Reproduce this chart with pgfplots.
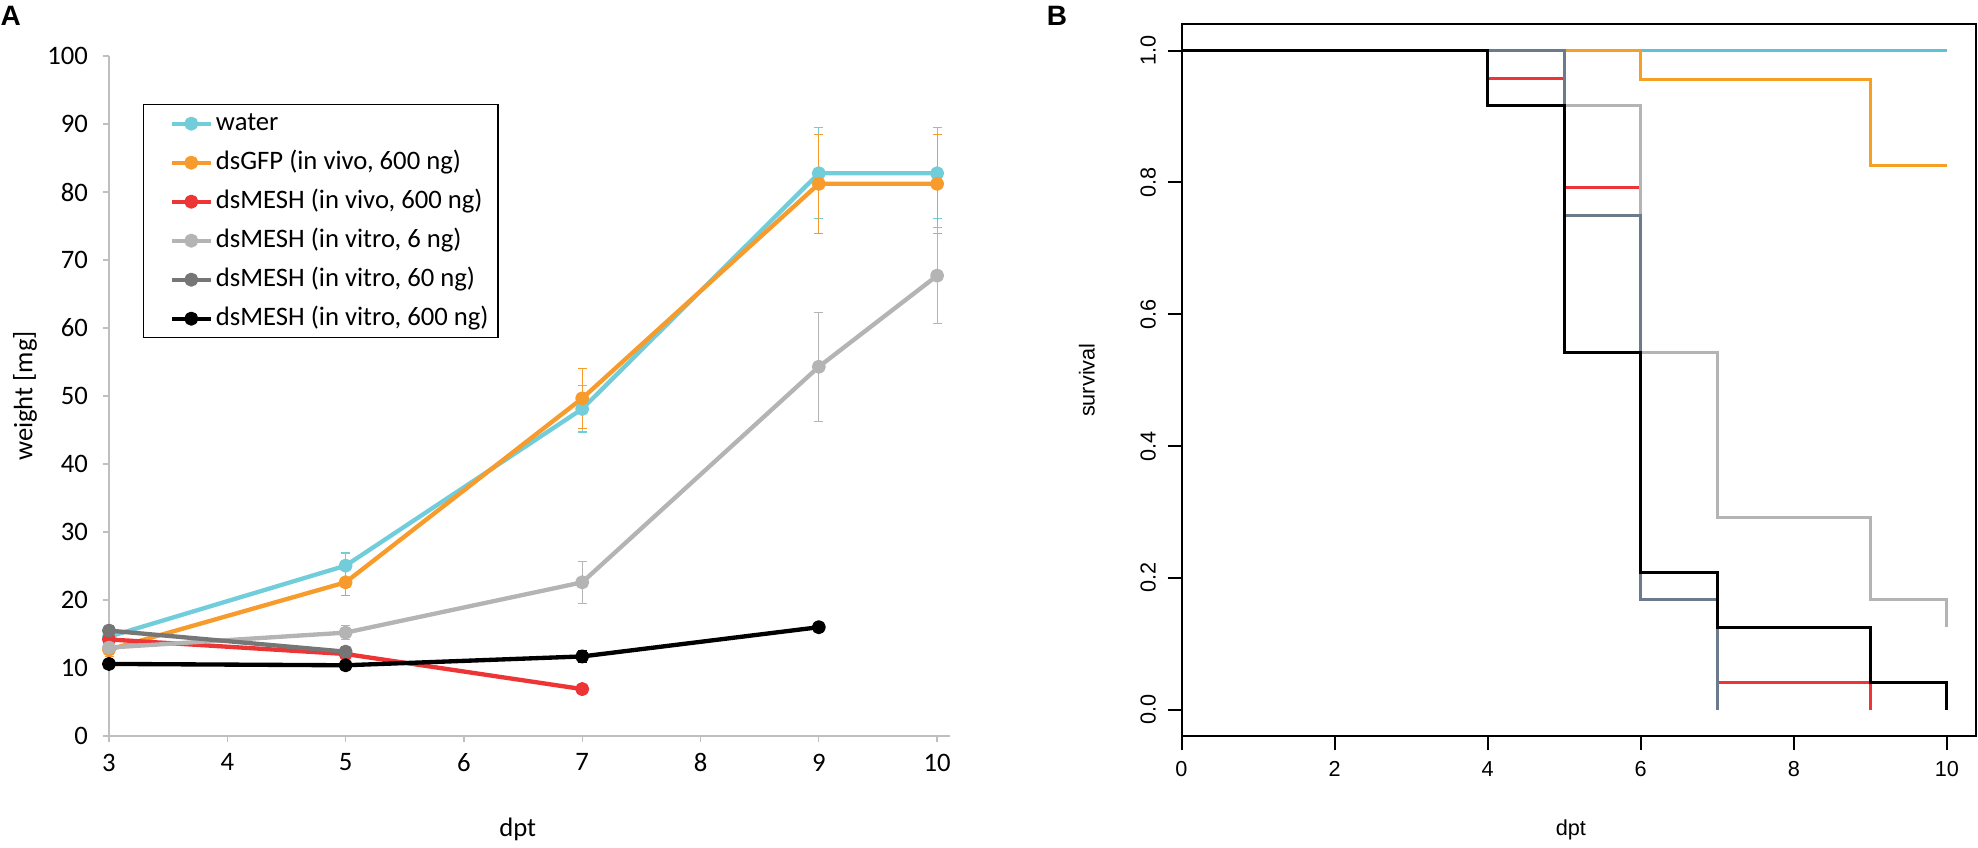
\documentclass[border=0pt]{standalone}
\usepackage{fontspec}
\setmainfont{Carlito}
\newfontfamily\arialf{Liberation Sans}
\usepackage{pgfplots}
\usepackage{pgfplotstable}
\pgfplotsset{compat=1.18}
\definecolor{cwater}{HTML}{72CDDB}
\definecolor{cgfp}{HTML}{F79B2C}
\definecolor{cred}{HTML}{EE3535}
\definecolor{clgrey}{HTML}{B4B4B4}
\definecolor{cdgrey}{HTML}{767676}
\definecolor{axgray}{HTML}{BFBFBF}
\definecolor{cslate}{HTML}{6C7B8B}
\definecolor{bcyan}{HTML}{5FC1D1}
\definecolor{borange}{HTML}{F5A022}

\pgfplotstableread{
x y e
3 14.6 0.8
5 25.05 1.85
7 48.1 3.4
9 82.75 6.7
10 82.75 6.7
}\water
\pgfplotstableread{
x y e
3 12.7 1.0
5 22.6 1.9
7 49.65 4.4
9 81.2 7.3
10 81.2 7.3
}\gfp
\pgfplotstableread{
x y e
3 14.2 0.4
5 12.06 0.4
7 6.9 0.3
}\redviv
\pgfplotstableread{
x y e
3 13.0 0.6
5 15.2 1.0
7 22.6 3.1
9 54.3 8.0
10 67.7 7.1
}\vitrosix
\pgfplotstableread{
x y e
3 15.5 0.8
5 12.4 0.8
}\vitrosixty
\pgfplotstableread{
x y e
3 10.6 0.5
5 10.4 0.6
7 11.7 0.9
9 16.0 0.3
}\vitrosixhundred

\newcommand{\afont}{\fontsize{8}{9.6}\selectfont}
\newcommand{\bfont}{\arialf\fontsize{6.5}{7.7}\selectfont}

\begin{document}
\begin{tikzpicture}
\useasboundingbox (0,0) rectangle (593.4pt,254.1pt);
\node[font=\arialf\bfseries\fontsize{8.4}{9}\selectfont] at (3.2pt,249.4pt) {A};
\node[font=\arialf\bfseries\fontsize{8.4}{9}\selectfont] at (317.1pt,249.4pt) {B};
\begin{axis}[
  at={(32.7pt,33.3pt)}, anchor=south west,
  scale only axis, width=252.3pt, height=204pt,
  xmin=3, xmax=10.109, ymin=0, ymax=100,
  axis x line*=bottom, axis y line*=left,
  axis line style={draw=axgray, line width=0.4pt},
  xtick={3,...,10}, ytick={0,10,...,100},
  tick align=outside, major tick length=1.8pt,
  tick style={draw=axgray, line width=0.4pt},
  ticklabel style={font=\afont},
  yticklabel style={xshift=-1pt},
  /pgf/number format/assume math mode=true,
  xlabel={dpt}, ylabel={weight [mg]},
  label style={font=\afont},
  xlabel style={at={(axis description cs:0.486,-0.1368)}, anchor=center},
  ylabel style={at={(axis description cs:-0.0999,0.5)}, anchor=center},
  clip=false,
  legend style={at={(rel axis cs:0.0404,0.9294)}, anchor=north west,
    draw=black, line width=0.4pt, inner xsep=7.8pt, inner ysep=1.7pt,
    row sep=3.7pt, column sep=0.9pt, font=\afont,
    nodes={inner sep=0pt, text height=6pt, text depth=2pt}},
  legend cell align=left,
  legend image code/.code={\draw[mark repeat=2,mark phase=2,#1] plot coordinates {(0pt,0pt)(5.85pt,0pt)(11.7pt,0pt)};},
  every axis plot/.append style={line width=1.3pt, mark=*, mark size=1.45pt, line join=round,
    error bars/y dir=both, error bars/y explicit,
    error bars/error bar style={line width=0.35pt},
    error bars/error mark options={line width=0.35pt, mark size=1.35pt, rotate=90}},
]
\addplot[cwater, mark options={fill=cwater}] table[x=x,y=y,y error=e]{\water};
\addlegendentry{\makebox[76.8pt][l]{water}}
\addplot[cgfp, mark options={fill=cgfp}] table[x=x,y=y,y error=e]{\gfp};
\addlegendentry{\makebox[76.8pt][l]{dsGFP (in vivo, 600 ng)}}
\addplot[cred, mark options={fill=cred}] table[x=x,y=y,y error=e]{\redviv};
\addlegendentry{\makebox[76.8pt][l]{dsMESH (in vivo, 600 ng)}}
\addplot[clgrey, mark options={fill=clgrey}] table[x=x,y=y,y error=e]{\vitrosix};
\addlegendentry{\makebox[76.8pt][l]{dsMESH (in vitro, 6 ng)}}
\addplot[cdgrey, mark options={fill=cdgrey}] table[x=x,y=y,y error=e]{\vitrosixty};
\addlegendentry{\makebox[76.8pt][l]{dsMESH (in vitro, 60 ng)}}
\addplot[black, mark options={fill=black}] table[x=x,y=y,y error=e]{\vitrosixhundred};
\addlegendentry{\makebox[76.8pt][l]{dsMESH (in vitro, 600 ng)}}
\end{axis}

\begin{axis}[
  at={(354.45pt,33.3pt)}, anchor=south west,
  scale only axis, width=238.35pt, height=213.5pt,
  xmin=0, xmax=10.38, ymin=-0.04, ymax=1.04,
  axis line style={line width=0.6pt, black},
  xtick={0,2,...,10}, ytick={0,0.2,...,1},
  tick pos=left, tick align=outside, major tick length=4.2pt,
  tick style={line width=0.6pt, black},
  ticklabel style={font=\bfont},
  /pgf/number format/assume math mode=true,
  yticklabel style={rotate=90, anchor=south, /pgf/number format/.cd, fixed, fixed zerofill, precision=1},
  xlabel={dpt}, ylabel={survival},
  label style={font=\bfont},
  xlabel style={at={(axis description cs:0.490,-0.1321)}, anchor=center},
  ylabel style={at={(axis description cs:-0.119,0.5)}, anchor=center},
  every axis plot/.append style={line width=0.9pt, const plot, no marks},
]
\addplot[bcyan] coordinates {(0,1)(10,1)};
\addplot[borange] coordinates {(0,1)(6,0.9565)(9,0.8261)(10,0.8261)};
\addplot[cred] coordinates {(0,1)(4,0.9583)(5,0.7917)(6,0.1667)(7,0.0417)(9,0)};
\addplot[clgrey] coordinates {(0,1)(5,0.9167)(6,0.5417)(7,0.2917)(9,0.1667)(10,0.1667)(10,0.125)};
\addplot[cslate] coordinates {(0,1)(5,0.75)(6,0.1667)(7,0)};
\addplot[black] coordinates {(0,1)(4,0.9167)(5,0.5417)(6,0.2083)(7,0.125)(9,0.0417)(10,0.0417)(10,0)};
\end{axis}
\end{tikzpicture}
\end{document}
